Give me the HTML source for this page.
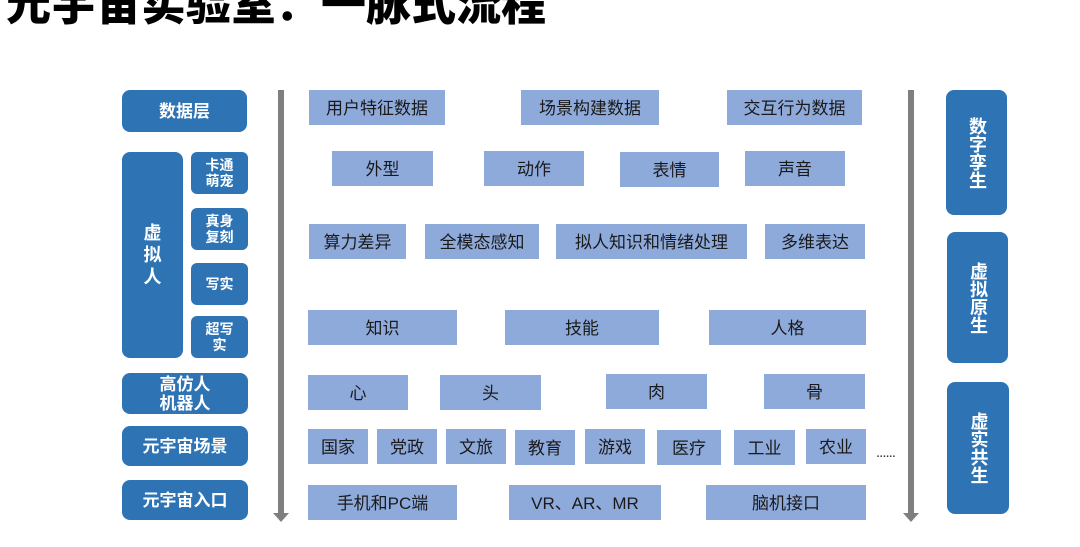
<!DOCTYPE html>
<html><head><meta charset="utf-8"><style>
body{margin:0;width:1080px;height:547px;background:#fff;position:relative;overflow:hidden;font-family:"Liberation Sans","Noto Sans CJK SC",sans-serif}
.t{position:absolute;left:6px;top:-32px;font-size:45px;font-weight:900;color:#000;white-space:nowrap;letter-spacing:0px}
.d{position:absolute;background:#2e74b5;color:#fff;font-weight:bold;border-radius:8px;display:flex;align-items:center;justify-content:center;text-align:center;font-size:17px;line-height:19px}
.s{font-size:14px;line-height:16px;border-radius:6px}
.v{writing-mode:vertical-rl;letter-spacing:0;font-size:18px}
.l{position:absolute;background:#8eaadb;color:#1a1a1a;display:flex;align-items:center;justify-content:center;font-size:17px;height:35px;padding-bottom:3px;box-sizing:border-box}
.g{position:absolute;width:6px;background:#7f7f7f}
.a{position:absolute;width:0;height:0;border-left:8px solid transparent;border-right:8px solid transparent;border-top:9px solid #7f7f7f}
</style></head><body>
<div class="t">元宇宙实验室：一脉式流程</div>

<div class="d" style="left:122px;top:90px;width:125px;height:42px">数据层</div>
<div class="d" style="left:122px;top:152px;width:61px;height:206px;font-size:18px;line-height:22px">虚<br>拟<br>人</div>
<div class="d s" style="left:191px;top:152px;width:57px;height:42px">卡通<br>萌宠</div>
<div class="d s" style="left:191px;top:208px;width:57px;height:42px">真身<br>复刻</div>
<div class="d s" style="left:191px;top:263px;width:57px;height:42px">写实</div>
<div class="d s" style="left:191px;top:316px;width:57px;height:42px">超写<br>实</div>
<div class="d" style="left:122px;top:373px;width:126px;height:41px">高仿人<br>机器人</div>
<div class="d" style="left:122px;top:426px;width:126px;height:40px">元宇宙场景</div>
<div class="d" style="left:122px;top:480px;width:126px;height:40px">元宇宙入口</div>

<div class="g" style="left:278px;top:90px;height:424px"></div>
<div class="a" style="left:273px;top:513px"></div>
<div class="g" style="left:908px;top:90px;height:424px"></div>
<div class="a" style="left:903px;top:513px"></div>

<div class="d v" style="left:946px;top:90px;width:61px;height:125px">数字孪生</div>
<div class="d v" style="left:947px;top:232px;width:61px;height:131px">虚拟原生</div>
<div class="d v" style="left:947px;top:382px;width:62px;height:132px">虚实共生</div>

<div class="l" style="left:309px;top:90px;width:136px">用户特征数据</div>
<div class="l" style="left:521px;top:90px;width:138px">场景构建数据</div>
<div class="l" style="left:727px;top:90px;width:135px">交互行为数据</div>

<div class="l" style="left:332px;top:151px;width:101px">外型</div>
<div class="l" style="left:484px;top:151px;width:100px">动作</div>
<div class="l" style="left:620px;top:152px;width:99px">表情</div>
<div class="l" style="left:745px;top:151px;width:100px">声音</div>

<div class="l" style="left:309px;top:224px;width:97px">算力差异</div>
<div class="l" style="left:425px;top:224px;width:114px">全模态感知</div>
<div class="l" style="left:556px;top:224px;width:191px">拟人知识和情绪处理</div>
<div class="l" style="left:765px;top:224px;width:100px">多维表达</div>

<div class="l" style="left:308px;top:310px;width:149px">知识</div>
<div class="l" style="left:505px;top:310px;width:154px">技能</div>
<div class="l" style="left:709px;top:310px;width:157px">人格</div>

<div class="l" style="left:308px;top:375px;width:100px">心</div>
<div class="l" style="left:440px;top:375px;width:101px">头</div>
<div class="l" style="left:606px;top:374px;width:101px">肉</div>
<div class="l" style="left:764px;top:374px;width:101px">骨</div>

<div class="l" style="left:308px;top:429px;width:60px">国家</div>
<div class="l" style="left:377px;top:429px;width:60px">党政</div>
<div class="l" style="left:446px;top:429px;width:60px">文旅</div>
<div class="l" style="left:515px;top:430px;width:60px">教育</div>
<div class="l" style="left:585px;top:429px;width:60px">游戏</div>
<div class="l" style="left:657px;top:430px;width:64px">医疗</div>
<div class="l" style="left:734px;top:430px;width:61px">工业</div>
<div class="l" style="left:806px;top:429px;width:60px">农业</div>
<div style="position:absolute;left:876px;top:444px;font-size:15px;color:#333;letter-spacing:-1px">......</div>

<div class="l" style="left:308px;top:485px;width:149px">手机和PC端</div>
<div class="l" style="left:509px;top:485px;width:152px">VR、AR、MR</div>
<div class="l" style="left:706px;top:485px;width:160px">脑机接口</div>
</body></html>
